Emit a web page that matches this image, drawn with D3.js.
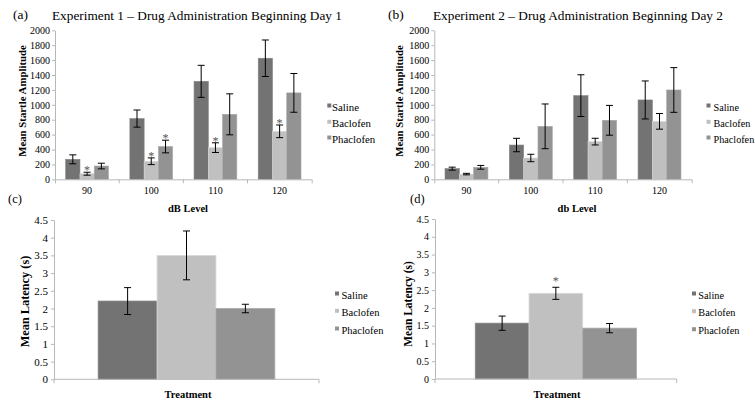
<!DOCTYPE html>
<html>
<head>
<meta charset="utf-8">
<script src="https://cdn.jsdelivr.net/npm/d3@7"></script>
<style>
  body { margin: 0; background: #fff; }
  svg { display: block; }
  svg text { font-family: "Liberation Serif", "DejaVu Serif", "Times New Roman", Times, serif; }
</style>
</head>
<body>
<script>

// ---- data ----
var series = ["Saline", "Baclofen", "Phaclofen"];
var dbLevels = ["90", "100", "110", "120"];
var startleTicks = [0, 200, 400, 600, 800, 1000, 1200, 1400, 1600, 1800, 2000];
var latencyTicks = [0, 0.5, 1, 1.5, 2, 2.5, 3, 3.5, 4, 4.5];

// Experiment 1 (panel a)
var exp1Saline = [268, 815, 1315, 1625];
var exp1SalineErr = [60, 115, 215, 245];
var exp1Baclofen = [75, 242, 425, 644];
var exp1BaclofenErr = [20, 45, 65, 85];
var exp1Phaclofen = [178, 440, 872, 1160];
var exp1PhaclofenErr = [38, 85, 275, 260];
var exp1Stars = [["90", "Baclofen"], ["100", "Baclofen"], ["100", "Phaclofen"], ["110", "Baclofen"], ["120", "Baclofen"]];

// Experiment 2 (panel b)
var exp2Saline = [143, 460, 1123, 1065];
var exp2SalineErr = [20, 90, 280, 255];
var exp2Baclofen = [70, 286, 506, 778];
var exp2BaclofenErr = [10, 50, 45, 105];
var exp2Phaclofen = [161, 711, 792, 1199];
var exp2PhaclofenErr = [25, 300, 200, 300];
var exp2Stars = [];

// Latency (panels c and d)
var latency1 = [2.21, 3.50, 2.00];
var latency1Err = [0.38, 0.69, 0.12];
var latency1Stars = [];
var latency2 = [1.57, 2.41, 1.43];
var latency2Err = [0.20, 0.17, 0.13];
var latency2Stars = ["Baclofen"];

// ---- drawing ----
var w = 755;
var h = 405;
var serif = "'Liberation Serif', 'DejaVu Serif', 'Times New Roman', Times, serif";

var svg = d3.select("body")
            .append("svg")
            .attr("width", w)
            .attr("height", h)
            .attr("font-family", serif);

var color = d3.scaleOrdinal()
              .domain(series)
              .range(["#737373", "#c0c0c0", "#939393"]);

var axisGray = "#b8b8b8";

function styleAxis(g, fontSize) {
  g.attr("font-family", serif).attr("font-size", fontSize);
  g.select(".domain").attr("stroke", axisGray);
  g.selectAll(".tick line").attr("stroke", axisGray);
  g.selectAll(".tick text").attr("fill", "#000");
}

function errorBar(g, cx, yTop, yBot) {
  g.append("line").attr("x1", cx).attr("x2", cx).attr("y1", yTop).attr("y2", yBot)
    .attr("stroke", "#000").attr("stroke-width", 1);
  [yTop, yBot].forEach(function(yy) {
    g.append("line").attr("x1", cx - 3.5).attr("x2", cx + 3.5).attr("y1", yy).attr("y2", yy)
      .attr("stroke", "#000").attr("stroke-width", 1);
  });
}

function legend(cfg) {
  var lg = svg.append("g");
  series.forEach(function(s, i) {
    var yy = cfg.legendY[i];
    lg.append("rect")
      .attr("x", cfg.legendX).attr("y", yy - 3.5)
      .attr("width", 4).attr("height", 4)
      .attr("fill", color(s));
    lg.append("text")
      .attr("x", cfg.legendTextX).attr("y", yy + 3.5)
      .attr("font-size", cfg.legendSize)
      .text(s);
  });
}

function yTitle(cfg, txt) {
  svg.append("text")
    .attr("transform", "translate(" + cfg.yTitleX + "," + cfg.yTitleY + ") rotate(-90)")
    .attr("text-anchor", "middle")
    .attr("font-size", cfg.yTitleSize)
    .attr("font-weight", "bold")
    .text(txt);
}

function groupedPanel(cfg) {
  var x = d3.scaleBand().domain(dbLevels).range([cfg.x0, cfg.x1]);
  var xs = d3.scaleBand().domain(series).range([0, x.bandwidth()]).paddingOuter(0.75);
  var y = d3.scaleLinear().domain([0, 2000]).range([cfg.yBottom, cfg.yTop]);

  var rows = [];
  dbLevels.forEach(function(lvl, i) {
    series.forEach(function(s, j) {
      rows.push({lvl: lvl, s: s, v: cfg.means[j][i], e: cfg.errs[j][i]});
    });
  });

  var graph = svg.append("g");

  graph.selectAll("rect")
    .data(rows)
    .enter()
    .append("rect")
    .attr("x", d => x(d.lvl) + xs(d.s))
    .attr("width", xs.bandwidth())
    .attr("y", d => y(d.v))
    .attr("height", d => cfg.yBottom - y(d.v))
    .attr("fill", d => color(d.s))
    .attr("stroke", d => d3.color(color(d.s)).brighter(0.35))
    .attr("stroke-width", 0.6);

  rows.forEach(function(d) {
    var cx = x(d.lvl) + xs(d.s) + xs.bandwidth() / 2;
    errorBar(graph, cx, y(d.v + d.e), y(d.v - d.e));
  });

  cfg.stars.forEach(function(st) {
    var d = rows.find(r => r.lvl == st[0] && r.s == st[1]);
    graph.append("text")
      .attr("x", x(d.lvl) + xs(d.s) + xs.bandwidth() / 2)
      .attr("y", y(d.v + d.e) + 2)
      .attr("text-anchor", "middle")
      .attr("fill", "#555")
      .attr("font-size", 12)
      .text("*");
  });

  // axes
  var yAxis = graph.append("g")
    .attr("transform", "translate(" + cfg.x0 + ",0)")
    .call(d3.axisLeft(y).tickValues(startleTicks).tickFormat(d3.format("d"))
            .tickSize(3).tickSizeOuter(0).tickPadding(2));
  styleAxis(yAxis, 10);

  var xAxis = graph.append("g")
    .attr("transform", "translate(0," + cfg.yBottom + ")")
    .call(d3.axisBottom(x).tickSize(0).tickSizeOuter(4).tickPadding(8));
  styleAxis(xAxis, 10);
  dbLevels.slice(1).forEach(function(lvl) {
    xAxis.append("line").attr("x1", x(lvl)).attr("x2", x(lvl)).attr("y1", 0).attr("y2", 4)
      .attr("stroke", axisGray);
  });

  yTitle(cfg, "Mean Startle Amplitude");

  svg.append("text")
    .attr("x", cfg.xTitleX).attr("y", cfg.xTitleY)
    .attr("text-anchor", "middle")
    .attr("font-size", 10.5).attr("font-weight", "bold")
    .text(cfg.xTitle);

  svg.append("text").attr("x", cfg.tagX).attr("y", 19).attr("font-size", 13.5).text(cfg.tag);
  svg.append("text").attr("x", cfg.titleX).attr("y", 20).attr("font-size", 13.3).text(cfg.title);

  legend(cfg);
}

function latencyPanel(cfg) {
  var x = d3.scaleBand().domain(series).range([cfg.x0, cfg.x1]).paddingOuter(0.75);
  var y = d3.scaleLinear().domain([0, 4.5]).range([cfg.yBottom, cfg.yTop]);

  var rows = series.map((s, j) => ({s: s, v: cfg.means[j], e: cfg.errs[j]}));

  var graph = svg.append("g");

  graph.selectAll("rect")
    .data(rows)
    .enter()
    .append("rect")
    .attr("x", d => x(d.s))
    .attr("width", x.bandwidth())
    .attr("y", d => y(d.v))
    .attr("height", d => cfg.yBottom - y(d.v))
    .attr("fill", d => color(d.s))
    .attr("stroke", d => d3.color(color(d.s)).brighter(0.35))
    .attr("stroke-width", 0.8);

  rows.forEach(function(d) {
    errorBar(graph, x(d.s) + x.bandwidth() / 2, y(d.v + d.e), y(d.v - d.e));
  });

  cfg.stars.forEach(function(s) {
    var d = rows.find(r => r.s == s);
    graph.append("text")
      .attr("x", x(d.s) + x.bandwidth() / 2)
      .attr("y", y(d.v + d.e) - 2)
      .attr("text-anchor", "middle")
      .attr("fill", "#555")
      .attr("font-size", 12)
      .text("*");
  });

  var yAxis = graph.append("g")
    .attr("transform", "translate(" + cfg.x0 + ",0)")
    .call(d3.axisLeft(y).tickValues(latencyTicks).tickFormat(d3.format("~g"))
            .tickSize(3).tickSizeOuter(0).tickPadding(3));
  styleAxis(yAxis, cfg.tickSize);

  graph.append("path")
    .attr("d", "M" + cfg.x0 + "," + (cfg.yBottom + 4) + "V" + cfg.yBottom + "H" + cfg.x1 + "V" + (cfg.yBottom + 4))
    .attr("fill", "none")
    .attr("stroke", axisGray);

  yTitle(cfg, "Mean Latency (s)");

  svg.append("text")
    .attr("x", cfg.xTitleX).attr("y", 398)
    .attr("text-anchor", "middle")
    .attr("font-size", 10.5).attr("font-weight", "bold")
    .text("Treatment");

  svg.append("text").attr("x", cfg.tagX).attr("y", 203).attr("font-size", 12.5).text(cfg.tag);

  legend(cfg);
}

groupedPanel({
  x0: 55, x1: 311.7, yTop: 30.3, yBottom: 179.3,
  means: [exp1Saline, exp1Baclofen, exp1Phaclofen],
  errs: [exp1SalineErr, exp1BaclofenErr, exp1PhaclofenErr],
  stars: exp1Stars,
  yTitleX: 25.5, yTitleY: 101, yTitleSize: 10.8,
  xTitle: "dB Level", xTitleX: 188, xTitleY: 211.5,
  tag: "(a)", tagX: 13,
  title: "Experiment 1 \u2013 Drug Administration Beginning Day 1", titleX: 52,
  legendX: 327.3, legendTextX: 332, legendY: [107, 123.3, 139], legendSize: 10.8
});

groupedPanel({
  x0: 434.3, x1: 691.7, yTop: 30.3, yBottom: 179.3,
  means: [exp2Saline, exp2Baclofen, exp2Phaclofen],
  errs: [exp2SalineErr, exp2BaclofenErr, exp2PhaclofenErr],
  stars: exp2Stars,
  yTitleX: 403, yTitleY: 101, yTitleSize: 10.8,
  xTitle: "db Level", xTitleX: 577, xTitleY: 211.5,
  tag: "(b)", tagX: 388,
  title: "Experiment 2 \u2013 Drug Administration Beginning Day 2", titleX: 433,
  legendX: 706.5, legendTextX: 713.5, legendY: [107, 123.3, 139], legendSize: 10.2
});

latencyPanel({
  x0: 54, x1: 319, yTop: 220, yBottom: 379.3,
  means: latency1, errs: latency1Err, stars: latency1Stars,
  tickSize: 11,
  yTitleX: 29, yTitleY: 301.5, yTitleSize: 12.3,
  xTitleX: 188,
  tag: "(c)", tagX: 8,
  legendX: 335, legendTextX: 341.5, legendY: [295, 312.3, 330], legendSize: 10.5
});

latencyPanel({
  x0: 435, x1: 676.7, yTop: 219, yBottom: 379,
  means: latency2, errs: latency2Err, stars: latency2Stars,
  tickSize: 10,
  yTitleX: 411.5, yTitleY: 304, yTitleSize: 11.5,
  xTitleX: 557,
  tag: "(d)", tagX: 410,
  legendX: 692, legendTextX: 698.3, legendY: [295, 312.7, 330.7], legendSize: 10.3
});

</script>
</body>
</html>
